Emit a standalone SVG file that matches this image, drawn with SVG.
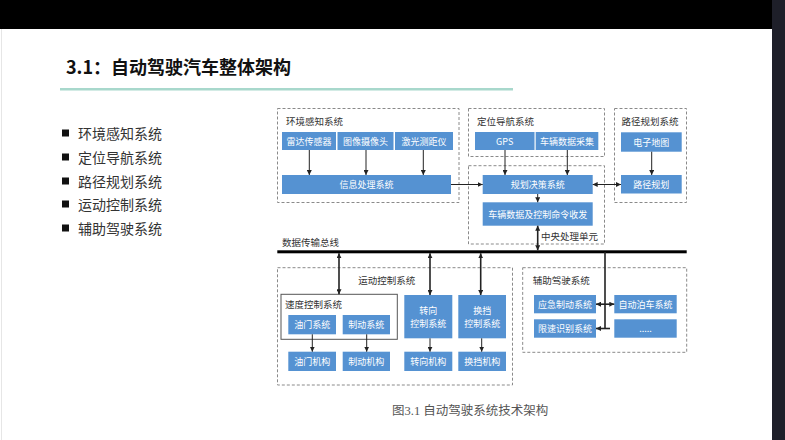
<svg xmlns="http://www.w3.org/2000/svg" width="785" height="440" viewBox="0 0 785 440">
<defs>
<marker id="ah" viewBox="0 0 10 10" refX="10" refY="5" markerWidth="5" markerHeight="5" markerUnits="userSpaceOnUse" orient="auto-start-reverse">
<path d="M0,0 L10,5 L0,10 z" fill="#222"/>
</marker>
<style>
.b{fill:#5592d2;}
.bt{fill:#fff;font-family:"Noto Sans CJK SC",sans-serif;font-size:9px;text-anchor:middle;dominant-baseline:central;}
.dash{fill:none;stroke:#8a8a8a;stroke-width:1;stroke-dasharray:3 2;}
.lab{fill:#333;font-family:"Noto Sans CJK SC",sans-serif;font-size:9.5px;dominant-baseline:central;}
.c{fill:none;stroke:#222;stroke-width:1;}
.c2{fill:none;stroke:#222;stroke-width:1.6;}
.bul{fill:#333;font-family:"Noto Sans CJK SC",sans-serif;font-size:14px;dominant-baseline:central;}
</style>
</defs>
<rect x="0" y="0" width="785" height="440" fill="#fff"/>
<rect x="0" y="0" width="772" height="29" fill="#000"/>
<rect x="772" y="0" width="13" height="440" fill="#1e1f29"/>
<line x1="1.5" y1="29" x2="1.5" y2="440" stroke="#e6e6e6" stroke-width="1"/>

<g id="title">
<text x="66" y="66" font-family="'Noto Sans CJK SC',sans-serif" font-size="18" font-weight="bold" fill="#111" dominant-baseline="central">3.1：自动驾驶汽车整体架构</text>
<rect x="60" y="88" width="453" height="2.5" fill="#a8d8cc"/>
</g>

<g id="bullets">
<rect x="62" y="129.5" width="7" height="7" fill="#111"/>
<text class="bul" x="78" y="133">环境感知系统</text>
<rect x="62" y="153.5" width="7" height="7" fill="#111"/>
<text class="bul" x="78" y="157">定位导航系统</text>
<rect x="62" y="177.5" width="7" height="7" fill="#111"/>
<text class="bul" x="78" y="181">路径规划系统</text>
<rect x="62" y="200.5" width="7" height="7" fill="#111"/>
<text class="bul" x="78" y="204">运动控制系统</text>
<rect x="62" y="224.5" width="7" height="7" fill="#111"/>
<text class="bul" x="78" y="228">辅助驾驶系统</text>
</g>

<g id="env">
<rect class="dash" x="277.5" y="108.5" width="181.5" height="94"/>
<text class="lab" x="286" y="120.5">环境感知系统</text>
<rect class="b" x="282" y="132" width="54" height="18"/>
<text class="bt" x="309" y="141">雷达传感器</text>
<rect class="b" x="337.5" y="132" width="56" height="18"/>
<text class="bt" x="365.5" y="141">图像摄像头</text>
<rect class="b" x="395" y="132" width="58" height="18"/>
<text class="bt" x="424" y="141">激光测距仪</text>
<rect class="b" x="282" y="175" width="169" height="19"/>
<text class="bt" x="366.5" y="184.5">信息处理系统</text>
</g>

<g id="nav">
<rect class="dash" x="468.5" y="108.5" width="136" height="48"/>
<text class="lab" x="477" y="120.5">定位导航系统</text>
<rect class="b" x="475" y="132" width="59.5" height="18"/>
<text class="bt" x="504.7" y="141">GPS</text>
<rect class="b" x="535.7" y="132" width="62.6" height="18"/>
<text class="bt" x="567" y="141">车辆数据采集</text>
</g>

<g id="cpu">
<rect class="dash" x="468.5" y="165.7" width="136" height="78.3"/>
<rect class="b" x="482.7" y="175" width="110" height="19"/>
<text class="bt" x="537.7" y="184.5">规划决策系统</text>
<rect class="b" x="482.7" y="202.3" width="110" height="23.4"/>
<text class="bt" x="537.7" y="214">车辆数据及控制命令收发</text>
<text class="lab" x="598" y="235.5" text-anchor="end">中央处理单元</text>
</g>

<g id="path">
<rect class="dash" x="614.5" y="108.5" width="72" height="94"/>
<text class="lab" x="621.5" y="120.5">路径规划系统</text>
<rect class="b" x="621" y="132.3" width="60.7" height="19.4"/>
<text class="bt" x="651.3" y="142">电子地图</text>
<rect class="b" x="621" y="175" width="60.7" height="18.5"/>
<text class="bt" x="651.3" y="184.2">路径规划</text>
</g>

<g id="bus">
<text class="lab" x="282" y="241.5">数据传输总线</text>
<rect x="277.3" y="250.3" width="409.4" height="3" fill="#000"/>
</g>

<g id="motion">
<rect class="dash" x="277.5" y="267.7" width="235" height="117.3"/>
<text class="lab" x="386.7" y="280" text-anchor="middle">运动控制系统</text>
<rect x="281" y="294.3" width="116.3" height="45" fill="none" stroke="#555" stroke-width="1"/>
<text class="lab" x="285" y="304.3">速度控制系统</text>
<rect class="b" x="288.3" y="315" width="47.7" height="19.3"/>
<text class="bt" x="312.2" y="324.7">油门系统</text>
<rect class="b" x="342.7" y="315" width="47.3" height="19.3"/>
<text class="bt" x="366.3" y="324.7">制动系统</text>
<rect class="b" x="404.3" y="295" width="48" height="43.3"/>
<text class="bt" x="428.3" y="310">转向</text>
<text class="bt" x="428.3" y="323">控制系统</text>
<rect class="b" x="458.3" y="295" width="47.7" height="43.3"/>
<text class="bt" x="482.2" y="310">换挡</text>
<text class="bt" x="482.2" y="323">控制系统</text>
<rect class="b" x="288.3" y="351.7" width="47.7" height="19.3"/>
<text class="bt" x="312.2" y="361.3">油门机构</text>
<rect class="b" x="342.7" y="351.7" width="47.3" height="19.3"/>
<text class="bt" x="366.3" y="361.3">制动机构</text>
<rect class="b" x="404.3" y="351.7" width="48" height="19.3"/>
<text class="bt" x="428.3" y="361.3">转向机构</text>
<rect class="b" x="458.3" y="351.7" width="47.7" height="19.3"/>
<text class="bt" x="482.2" y="361.3">换挡机构</text>
</g>

<g id="assist">
<rect class="dash" x="522.7" y="267.7" width="164" height="84.6"/>
<text class="lab" x="532.7" y="280">辅助驾驶系统</text>
<rect class="b" x="534" y="295" width="62" height="18.3"/>
<text class="bt" x="565" y="304.2">应急制动系统</text>
<rect class="b" x="614.3" y="295" width="62.4" height="18.3"/>
<text class="bt" x="645.5" y="304.2">自动泊车系统</text>
<rect class="b" x="534" y="319.3" width="62" height="18.4"/>
<text class="bt" x="565" y="328.5">限速识别系统</text>
<rect class="b" x="614.3" y="319.3" width="62.4" height="18.4"/>
<text class="bt" x="645.5" y="328.5">.....</text>
</g>

<g id="connectors">
<line class="c" x1="309.3" y1="150" x2="309.3" y2="175" marker-end="url(#ah)"/>
<line class="c" x1="366" y1="150" x2="366" y2="175" marker-end="url(#ah)"/>
<line class="c" x1="423.3" y1="150" x2="423.3" y2="175" marker-end="url(#ah)"/>
<line class="c" x1="505" y1="150" x2="505" y2="175" marker-end="url(#ah)"/>
<line class="c" x1="567.3" y1="150" x2="567.3" y2="175" marker-end="url(#ah)"/>
<line class="c" x1="651.7" y1="151.7" x2="651.7" y2="175" marker-end="url(#ah)"/>
<line class="c" x1="451" y1="184.5" x2="482.7" y2="184.5" marker-end="url(#ah)"/>
<line class="c" x1="592.7" y1="184.5" x2="621" y2="184.5" marker-start="url(#ah)" marker-end="url(#ah)"/>
<line class="c" x1="537.7" y1="194" x2="537.7" y2="202.3" marker-end="url(#ah)"/>
<line class="c2" x1="537.7" y1="225.7" x2="537.7" y2="250.3" marker-start="url(#ah)" marker-end="url(#ah)"/>
<line class="c2" x1="339" y1="253.3" x2="339" y2="294.3" marker-start="url(#ah)" marker-end="url(#ah)"/>
<line class="c2" x1="430" y1="253.3" x2="430" y2="295" marker-start="url(#ah)" marker-end="url(#ah)"/>
<line class="c2" x1="480.7" y1="253.3" x2="480.7" y2="295" marker-start="url(#ah)" marker-end="url(#ah)"/>
<line class="c" x1="312.3" y1="334.3" x2="312.3" y2="351.7" marker-end="url(#ah)"/>
<line class="c" x1="366.7" y1="334.3" x2="366.7" y2="351.7" marker-end="url(#ah)"/>
<line class="c" x1="430" y1="338.3" x2="430" y2="351.7" marker-end="url(#ah)"/>
<line class="c" x1="481.7" y1="338.3" x2="481.7" y2="351.7" marker-end="url(#ah)"/>
<line class="c2" x1="605" y1="252" x2="605" y2="328.5"/>
<line class="c2" x1="605" y1="304.2" x2="596" y2="304.2" marker-end="url(#ah)"/>
<line class="c2" x1="605" y1="304.2" x2="614.3" y2="304.2" marker-end="url(#ah)"/>
<line class="c2" x1="605" y1="328.5" x2="596" y2="328.5" marker-end="url(#ah)"/>
<line class="c2" x1="605" y1="328.5" x2="610" y2="328.5"/>
</g>

<g id="caption">
<text x="392" y="411" font-family="'Liberation Serif','Noto Sans CJK SC',serif" font-size="12.5" fill="#555" dominant-baseline="central">图3.1 自动驾驶系统技术架构</text>
</g>
</svg>
